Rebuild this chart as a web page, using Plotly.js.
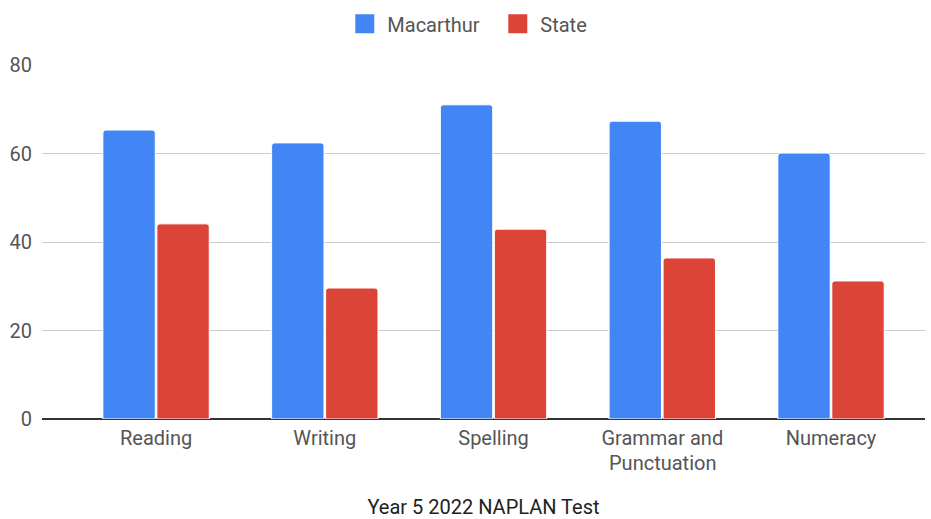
<!DOCTYPE html>
<html>
<head>
<meta charset="utf-8">
<script src="https://cdn.plot.ly/plotly-3.0.1.min.js"></script>
<style>html,body{margin:0;padding:0;background:#fff;}#chart{width:931px;height:519px;}</style>
</head>
<body>
<div id="chart"></div>
<script>
const categories = ["Reading", "Writing", "Spelling", "Grammar and", "Numeracy"];
const categorySecondLine = ["", "", "", "Punctuation", ""];
const macarthur = [65.3, 62.4, 71.0, 67.3, 60.1];
const state = [44.1, 29.6, 42.9, 36.4, 31.2];
const yTicks = [0, 20, 40, 60, 80];
const seriesNames = ["Macarthur", "State"];
const seriesColors = ["#4285F4", "#DB4437"];

const idx = categories.map((c, i) => i);

const traces = [
  {type: "bar", name: seriesNames[0], x: idx, y: macarthur, showlegend: false,
   marker: {color: seriesColors[0], line: {color: "#ffffff", width: 1}}, hoverinfo: "none"},
  {type: "bar", name: seriesNames[1], x: idx, y: state, showlegend: false,
   marker: {color: seriesColors[1], line: {color: "#ffffff", width: 1}}, hoverinfo: "none"}
];
seriesNames.forEach((n, i) => traces.push({
  type: "scatter", mode: "markers", name: n, x: [null], y: [null],
  marker: {symbol: "square", size: 20, color: seriesColors[i], line: {color: seriesColors[i], width: 3}},
  showlegend: true, hoverinfo: "none"
}));

const annotations = [];
categorySecondLine.forEach((t, i) => {
  if (t) annotations.push({
    text: t, x: i, xref: "x", y: 0, yref: "paper", yanchor: "middle",
    yshift: -44, showarrow: false, font: {size: 20, color: "#555555"}
  });
});

const layout = {
  width: 931, height: 519,
  margin: {l: 42, r: 6, t: 65, b: 100},
  paper_bgcolor: "#ffffff", plot_bgcolor: "#ffffff",
  font: {family: "Roboto, Arial, sans-serif", size: 20, color: "#555555"},
  barmode: "group", bargap: 0.36, bargroupgap: 0.03, barcornerradius: 3,
  showlegend: true,
  legend: {orientation: "h", x: 0.532, xanchor: "center", xref: "container",
           y: 0.954, yanchor: "middle", yref: "container",
           font: {size: 20, color: "#555555"}, itemsizing: "trace", itemwidth: 35,
           entrywidth: 103, entrywidthmode: "pixels"},
  annotations: annotations,
  xaxis: {
    range: [-0.676, 4.557], tickvals: idx, ticktext: categories,
    showgrid: false, zeroline: false, showline: false, ticks: "",
    automargin: false, ticklabelstandoff: 5,
    tickfont: {size: 20, color: "#555555"},
    title: {text: "Year 5 2022 NAPLAN Test", font: {size: 20, color: "#222222"}, standoff: 61}
  },
  yaxis: {
    range: [0, 80], tickvals: yTicks, ticktext: yTicks.map(String),
    showgrid: true, gridcolor: "#cccccc", gridwidth: 1,
    zeroline: true, zerolinecolor: "#333333", zerolinewidth: 1.5,
    ticks: "", ticklabelstandoff: 9, automargin: false,
    tickfont: {size: 20, color: "#555555"}
  }
};

Plotly.newPlot("chart", traces, layout, {displayModeBar: false, staticPlot: true});
</script>
</body>
</html>
